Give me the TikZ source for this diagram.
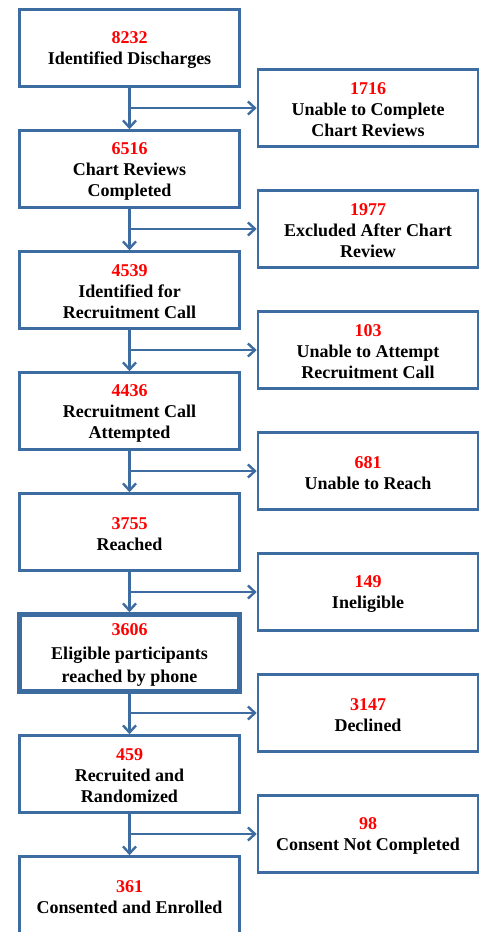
\documentclass[tikz,border=0pt]{standalone}
\usepackage{fontspec}
\setmainfont{Liberation Serif}
\usetikzlibrary{arrows.meta}
\definecolor{boxblue}{RGB}{61,108,160}
\definecolor{numred}{RGB}{255,0,0}
\tikzset{
  x=1pt, y=-1pt,
  fbox/.style={draw=boxblue, line width=2.6pt, fill=white, minimum width=220pt,
    minimum height=77pt, inner sep=0pt, align=center,
    font=\fontsize{18}{21}\selectfont\bfseries},
  thickbox/.style={fbox, line width=4.6pt, font=\fontsize{18}{23.5}\selectfont\bfseries},
  arr/.style={draw=boxblue, line width=2.4pt,
    -{Straight Barb[length=7pt,width=13pt,line width=2.4pt]}},
}
\newcommand{\num}[1]{\rule{0pt}{16pt}\textcolor{numred}{#1}}
\begin{document}
\begin{tikzpicture}
\useasboundingbox (0,0) rectangle (484,932);
% left column
\node[fbox] (L0) at (129.5,48) {\num{8232}\\Identified Discharges};
\node[fbox] (L1) at (129.5,169) {\num{6516}\\Chart Reviews\\Completed};
\node[fbox] (L2) at (129.5,290) {\num{4539}\\Identified for\\Recruitment Call};
\node[fbox] (L3) at (129.5,411) {\num{4436}\\Recruitment Call\\Attempted};
\node[fbox] (L4) at (129.5,532) {\num{3755}\\Reached};
\node[thickbox] (L5) at (129.5,653) {\num{3606}\\Eligible participants\\reached by phone};
\node[fbox] (L6) at (129.5,774) {\num{459}\\Recruited and\\Randomized};
\node[fbox] (L7) at (129.5,895) {\num{361}\\Consented and Enrolled};
% right column
\node[fbox] (R0) at (368,108) {\num{1716}\\Unable to Complete\\Chart Reviews};
\node[fbox] (R1) at (368,229) {\num{1977}\\Excluded After Chart\\Review};
\node[fbox] (R2) at (368,350) {\num{103}\\Unable to Attempt\\Recruitment Call};
\node[fbox] (R3) at (368,471) {\num{681}\\Unable to Reach};
\node[fbox] (R4) at (368,592) {\num{149}\\Ineligible};
\node[fbox] (R5) at (368,713) {\num{3147}\\Declined};
\node[fbox] (R6) at (368,834) {\num{98}\\Consent Not Completed};
% connectors
\foreach \i/\j in {0/1,1/2,2/3,3/4,4/5,5/6,6/7}{
  \draw[arr] (L\i.south) -- (L\j.north);
  \draw[arr] (L\i.south |- R\i.west) -- (R\i.west);
}
\end{tikzpicture}
\end{document}
